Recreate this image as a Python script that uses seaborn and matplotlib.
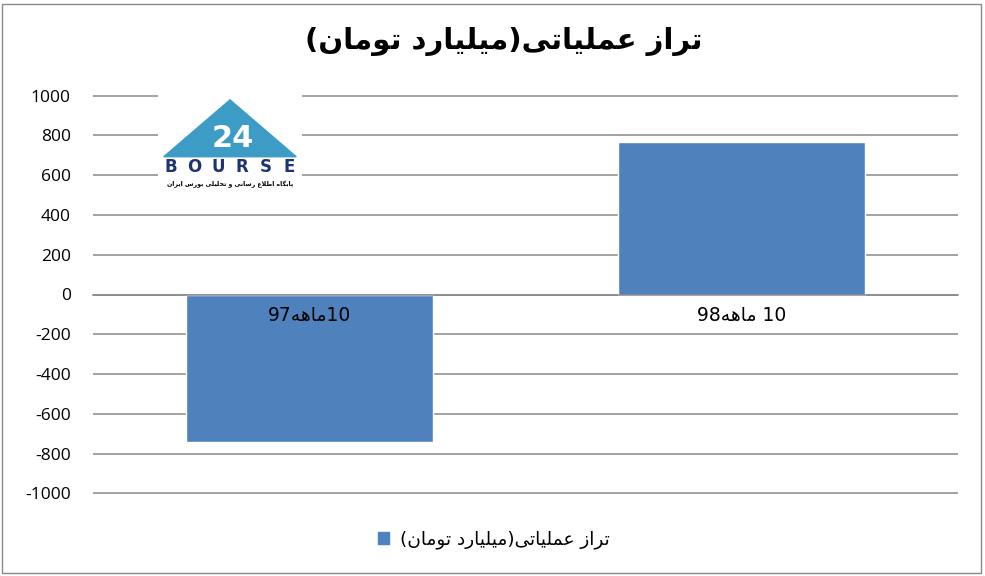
import numpy as np
import pandas as pd
import matplotlib
matplotlib.use('Agg')
import matplotlib.pyplot as plt
import seaborn as sns
from matplotlib.patches import Patch, Rectangle, Polygon

# Data
categories = ['10ماهه97', '10 ماهه98']
values = [-740, 765]
title_text = 'تراز عملیاتی(میلیارد تومان)'
logo_caption = 'پایگاه اطلاع رسانی و تحلیلی بورس ایران'
yticks = list(range(-1000, 1001, 200))

bar_color = '#4F81BD'
grid_color = '#898989'

# Minimal Persian shaping (matplotlib has no bidi/shaping support)
# letter: (isolated, final, initial, medial); None => right-joining only
FORMS = {
    'ا': ('\uFE8D', '\uFE8E', None, None),
    'ب': ('\uFE8F', '\uFE90', '\uFE91', '\uFE92'),
    'پ': ('\uFB56', '\uFB57', '\uFB58', '\uFB59'),
    'ت': ('\uFE95', '\uFE96', '\uFE97', '\uFE98'),
    'ح': ('\uFEA1', '\uFEA2', '\uFEA3', '\uFEA4'),
    'د': ('\uFEA9', '\uFEAA', None, None),
    'ر': ('\uFEAD', '\uFEAE', None, None),
    'ز': ('\uFEAF', '\uFEB0', None, None),
    'س': ('\uFEB1', '\uFEB2', '\uFEB3', '\uFEB4'),
    'ط': ('\uFEC1', '\uFEC2', '\uFEC3', '\uFEC4'),
    'ع': ('\uFEC9', '\uFECA', '\uFECB', '\uFECC'),
    'گ': ('\uFB92', '\uFB93', '\uFB94', '\uFB95'),
    'ل': ('\uFEDD', '\uFEDE', '\uFEDF', '\uFEE0'),
    'م': ('\uFEE1', '\uFEE2', '\uFEE3', '\uFEE4'),
    'ن': ('\uFEE5', '\uFEE6', '\uFEE7', '\uFEE8'),
    'ه': ('\uFEE9', '\uFEEA', '\uFEEB', '\uFEEC'),
    'و': ('\uFEED', '\uFEEE', None, None),
    'ی': ('\uFBFC', '\uFBFD', '\uFBFE', '\uFBFF'),
}


def rtl(text):
    out = []
    i = 0
    while i < len(text):
        c = text[i]
        if c not in FORMS:
            out.append(c)
            i += 1
            continue
        prev = text[i - 1] if i > 0 else None
        nxt = text[i + 1] if i + 1 < len(text) else None
        join_prev = prev in FORMS and FORMS[prev][2] is not None
        if c == 'ل' and nxt == 'ا':
            out.append('\uFEFC' if join_prev else '\uFEFB')
            i += 2
            continue
        join_next = nxt in FORMS and FORMS[c][2] is not None
        iso, fin, ini, med = FORMS[c]
        if join_prev and join_next:
            out.append(med)
        elif join_prev:
            out.append(fin)
        elif join_next:
            out.append(ini)
        else:
            out.append(iso)
        i += 1
    s = ''.join(out)[::-1]
    s = s.translate(str.maketrans('()', ')('))
    # put digit runs back in left-to-right order
    res, run = [], ''
    for ch in s:
        if ch.isdigit():
            run += ch
        else:
            res.append(run[::-1])
            run = ''
            res.append(ch)
    res.append(run[::-1])
    return ''.join(res)


df = pd.DataFrame({'period': [rtl(c) for c in categories], 'value': values})

sns.set_style('white')
plt.rcParams['font.family'] = ['DejaVu Sans']
plt.rcParams['text.color'] = 'black'
plt.rcParams['xtick.color'] = 'black'
plt.rcParams['ytick.color'] = 'black'

W, H = 985, 576
fig = plt.figure(figsize=(W / 100, H / 100), dpi=100)

ax = fig.add_axes([93 / W, 1 - 494 / H, (958 - 93) / W, (494 - 95) / H])
sns.barplot(data=df, x='period', y='value', color=bar_color, saturation=1,
            width=0.57, ax=ax)
ax.set_ylim(-1003, 1003)
ax.set_xlim(-0.5, 1.5)
ax.set_yticks(yticks)
ax.set_yticklabels([str(v) for v in yticks], fontfamily='Open Sans', fontsize=12.5)
ax.grid(axis='y', color=grid_color, linewidth=1.1)
ax.set_axisbelow(True)
for s in ['left', 'right', 'top']:
    ax.spines[s].set_visible(False)
ax.spines['bottom'].set_position(('data', 0))
ax.spines['bottom'].set_color(grid_color)
ax.spines['bottom'].set_linewidth(1.1)
ax.tick_params(axis='y', length=0, pad=16)
ax.tick_params(axis='x', length=0, labelbottom=False)
ax.set_xlabel('')
ax.set_ylabel('')

# category labels sit just under the zero line, above the bars
for i, lab in enumerate(df['period']):
    ax.annotate(lab, xy=(i, 0), xytext=(0, -15), textcoords='offset points',
                ha='center', va='center', fontsize=13.5, zorder=5)

fig.text(504 / W, 1 - 41 / H, rtl(title_text), ha='center', va='center',
         fontsize=21, fontweight='bold')

fig.legend(handles=[Patch(color=bar_color, label=rtl(title_text))],
           loc='center', bbox_to_anchor=(494 / W, 1 - 540 / H), frameon=False,
           handlelength=0.6, handleheight=0.6, handletextpad=0.6, fontsize=13.3)

# logo block
lg = fig.add_axes([158 / W, 1 - 192 / H, 144 / W, 98 / H])
lg.set_xlim(0, 1)
lg.set_ylim(0, 1)
lg.set_xticks([])
lg.set_yticks([])
for s in lg.spines.values():
    s.set_visible(False)
lg.set_facecolor('white')
lg.add_patch(Polygon([[0.5, 0.94], [0.04, 0.36], [0.96, 0.36]],
                     closed=True, color='#3d9cc6'))
lg.text(0.52, 0.55, '24', color='white', ha='center', va='center',
        fontsize=22, fontweight='bold')
for k, ch in enumerate('BOURSE'):
    lg.text(0.09 + k * 0.164, 0.25, ch, color='#1d3470', ha='center', va='center',
            fontsize=12, fontweight='bold')
lg.text(0.5, 0.08, rtl(logo_caption), color='black', ha='center', va='center',
        fontsize=4.5, fontweight='bold')

fig.add_artist(Rectangle((2 / W, 3 / H), 979 / W, 569 / H, transform=fig.transFigure,
                         fill=False, edgecolor=grid_color, linewidth=1))

fig.savefig('out.png', dpi=100)
